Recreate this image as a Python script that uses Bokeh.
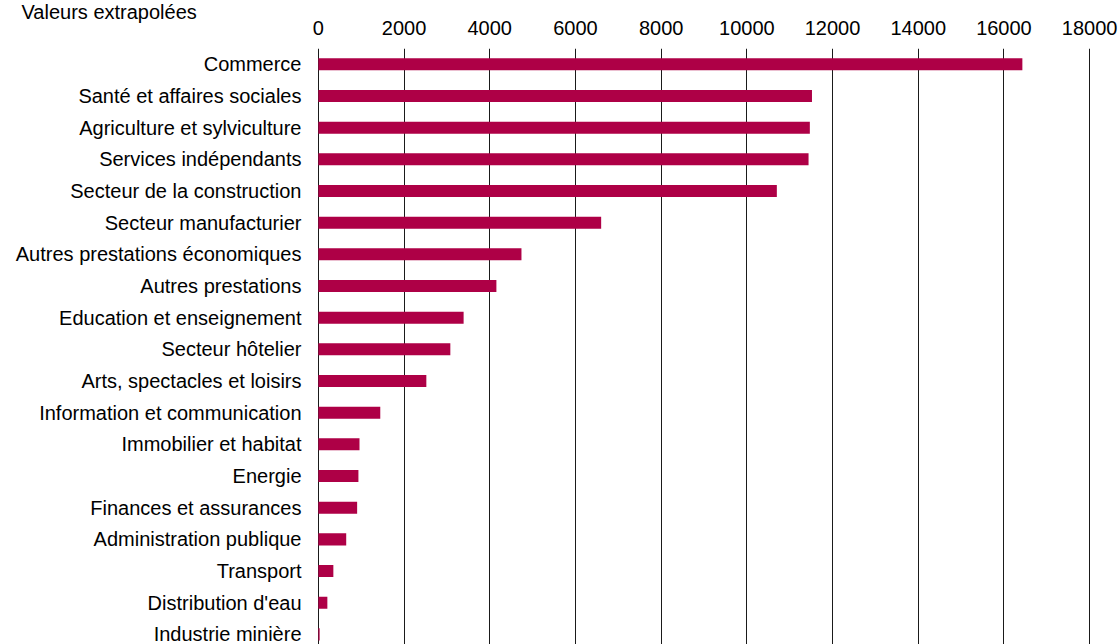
from bokeh.plotting import figure
from bokeh.models import Range1d, FixedTicker, ColumnDataSource
from bokeh.embed import file_html
from bokeh.resources import INLINE

categories = [
    "Commerce", "Santé et affaires sociales", "Agriculture et sylviculture",
    "Services indépendants", "Secteur de la construction", "Secteur manufacturier",
    "Autres prestations économiques", "Autres prestations", "Education et enseignement",
    "Secteur hôtelier", "Arts, spectacles et loisirs", "Information et communication",
    "Immobilier et habitat", "Energie", "Finances et assurances",
    "Administration publique", "Transport", "Distribution d'eau", "Industrie minière",
]
values = [16430, 11520, 11470, 11440, 10700, 6600, 4740, 4155, 3390, 3080, 2520,
          1445, 960, 935, 905, 650, 350, 210, 30]
x_ticks = [0, 2000, 4000, 6000, 8000, 10000, 12000, 14000, 16000, 18000]
title_text = "Valeurs extrapolées"

FONT = "Liberation Sans"
FS = "20px"

pos = list(range(len(categories)))
src = ColumnDataSource(dict(y=pos, v=values, name=categories))

p = figure(width=1120, height=644, output_backend="svg", toolbar_location=None,
           x_range=Range1d(-20, 18020), y_range=Range1d(18.32, -0.5),
           x_axis_location="above", title=title_text,
           min_border_left=317, min_border_right=30, min_border_top=48, min_border_bottom=0)
p.outline_line_color = None
p.background_fill_color = "white"
p.border_fill_color = "white"

p.title.align = "left"
p.title.offset = -296
p.title.vertical_align = "top"
p.title.standoff = -14
p.title.text_font = FONT
p.title.text_font_size = FS
p.title.text_font_style = "normal"
p.title.text_color = "black"

p.hbar(y="y", right="v", left=0, height=0.38, source=src,
       fill_color="#AE0046", line_color=None)

xa = p.xaxis[0]
xa.ticker = FixedTicker(ticks=x_ticks)
xa.axis_line_color = None
xa.major_tick_line_color = None
xa.minor_tick_line_color = None
xa.major_tick_out = 0
xa.major_label_text_font = FONT
xa.major_label_text_font_size = FS
xa.major_label_text_color = "black"
xa.major_label_standoff = 14

ya = p.yaxis[0]
ya.ticker = FixedTicker(ticks=pos)
ya.major_label_overrides = {i: c for i, c in zip(pos, categories)}
ya.axis_line_color = None
ya.major_tick_line_color = None
ya.minor_tick_line_color = None
ya.major_tick_out = 0
ya.major_label_text_font = FONT
ya.major_label_text_font_size = FS
ya.major_label_text_color = "black"
ya.major_label_standoff = 16

p.xgrid.ticker = FixedTicker(ticks=x_ticks)
p.xgrid.grid_line_color = "#1a1a1a"
p.xgrid.grid_line_width = 1
p.ygrid.grid_line_color = None

open("out.html", "w").write(file_html(p, INLINE))
